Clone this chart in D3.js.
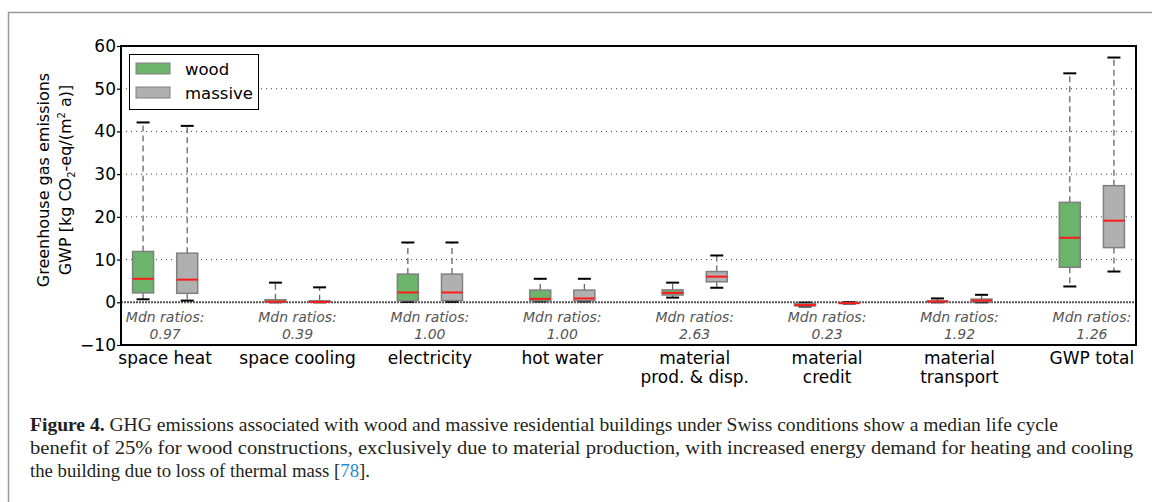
<!DOCTYPE html>
<html>
<head>
<meta charset="utf-8">
<script src="https://cdn.jsdelivr.net/npm/d3@7"></script>
<style>
body { margin: 0; background: #fff; }
svg { display: block; }
text { font-family: "DejaVu Sans", sans-serif; }
</style>
</head>
<body>
<svg id="chart"></svg>
<script>
// categories (x labels, may wrap to 2 lines)
let categories = [["space heat"], ["space cooling"], ["electricity"], ["hot water"],
    ["material", "prod. & disp."], ["material", "credit"], ["material", "transport"], ["GWP total"]]
// box stats: [lower whisker, q1, median, q3, upper whisker]
let woodStats = [
    [0.7, 2.2, 5.5, 11.9, 42.1],
    [0.0, 0.05, 0.15, 0.6, 4.6],
    [0.1, 0.35, 2.3, 6.6, 14.0],
    [0.2, 0.35, 0.8, 2.85, 5.5],
    [1.1, 1.7, 2.2, 2.9, 4.6],
    [-1.0, -0.85, -0.65, -0.3, -0.1],
    [0.0, 0.1, 0.2, 0.3, 0.9],
    [3.7, 8.2, 15.1, 23.4, 53.6]
]
let massiveStats = [
    [0.4, 2.1, 5.3, 11.5, 41.3],
    [0.0, 0.02, 0.06, 0.35, 3.5],
    [0.1, 0.4, 2.3, 6.6, 14.0],
    [0.2, 0.35, 0.9, 2.85, 5.5],
    [3.4, 4.8, 6.0, 7.2, 10.96],
    [-0.3, -0.25, -0.2, -0.1, 0.0],
    [0.0, 0.15, 0.42, 0.75, 1.75],
    [7.2, 12.8, 19.1, 27.3, 57.3]
]
let ratios = ["0.97", "0.39", "1.00", "1.00", "2.63", "0.23", "1.92", "1.26"]
let yTicks = [-10, 0, 10, 20, 30, 40, 50, 60]
let seriesNames = ["wood", "massive"]
let seriesColors = ["#6cb36c", "#b0b0b0"]

let width = 1152
let height = 502
let padL = 121, padR = 1136, padT = 46, padB = 345

let svg = d3.select('#chart').attr('width', width).attr('height', height)

// outer figure frame (left + top)
svg.append('line').attr('x1', 8.5).attr('x2', 8.5).attr('y1', 12).attr('y2', height)
    .attr('stroke', '#999').attr('stroke-width', 1.5)
svg.append('line').attr('x1', 8).attr('x2', width).attr('y1', 12.5).attr('y2', 12.5)
    .attr('stroke', '#999').attr('stroke-width', 1.5)

let xScale = d3.scaleLinear().domain([0.5, 23.5]).range([padL, padR])
let yScale = d3.scaleLinear().domain([-10, 60]).range([padB, padT])

// grid
svg.append('g').selectAll('line')
    .data(yTicks.filter(t => t > 0 && t < 60))
    .enter().append('line')
    .attr('x1', padL).attr('x2', padR)
    .attr('y1', d => yScale(d)).attr('y2', d => yScale(d))
    .attr('stroke', '#444').attr('stroke-width', 1).attr('stroke-dasharray', '1,4')

// zero line
svg.append('line').attr('x1', padL).attr('x2', padR)
    .attr('y1', yScale(0)).attr('y2', yScale(0))
    .attr('stroke', '#555').attr('stroke-width', 2).attr('stroke-dasharray', '2,1')

// y axis
let yAxis = d3.axisLeft(yScale).tickValues(yTicks).tickSize(4).tickPadding(1)
    .tickFormat(d => d < 0 ? '\u2212' + Math.abs(d) : d)
let ya = svg.append('g').attr('transform', 'translate(' + padL + ',0)').call(yAxis)
ya.select('.domain').remove()
ya.selectAll('line').attr('stroke', '#000').attr('stroke-width', 1.2)
ya.selectAll('text').attr('font-size', 17).attr('font-family', 'DejaVu Sans').attr('fill', '#000')

// boxes
let boxW = 21
let drawBoxes = (stats, offset, color) => {
    let g = svg.append('g')
    stats.forEach((s, i) => {
        let cx = xScale(i * 3 + offset)
        let [lo, q1, md, q3, hi] = s
        // whiskers
        g.append('line').attr('x1', cx).attr('x2', cx).attr('y1', yScale(q3)).attr('y2', yScale(hi))
            .attr('stroke', '#666').attr('stroke-width', 1.3).attr('stroke-dasharray', '6,4')
        g.append('line').attr('x1', cx).attr('x2', cx).attr('y1', yScale(q1)).attr('y2', yScale(lo))
            .attr('stroke', '#666').attr('stroke-width', 1.3).attr('stroke-dasharray', '6,4')
        // caps
        ;[lo, hi].forEach(v => {
            g.append('line').attr('x1', cx - 6.5).attr('x2', cx + 6.5)
                .attr('y1', yScale(v)).attr('y2', yScale(v))
                .attr('stroke', '#000').attr('stroke-width', 2)
        })
        g.append('rect').attr('x', cx - boxW / 2).attr('width', boxW)
            .attr('y', yScale(q3)).attr('height', Math.max(yScale(q1) - yScale(q3), 0.5))
            .attr('fill', color).attr('stroke', '#808080').attr('stroke-width', 1.5)
        g.append('line').attr('x1', cx - boxW / 2).attr('x2', cx + boxW / 2)
            .attr('y1', yScale(md)).attr('y2', yScale(md))
            .attr('stroke', '#ff1a1a').attr('stroke-width', 2)
    })
}
drawBoxes(woodStats, 1, seriesColors[0])
drawBoxes(massiveStats, 2, seriesColors[1])

// median ratio annotations
let rt = svg.append('g')
ratios.forEach((r, i) => {
    let cx = xScale(i * 3 + 1.5)
    let t = rt.append('text').attr('x', cx).attr('text-anchor', 'middle')
        .attr('font-size', 14).attr('font-style', 'italic').attr('fill', '#555')
    t.append('tspan').attr('x', cx).attr('y', 322).text('Mdn ratios:')
    t.append('tspan').attr('x', cx).attr('y', 339).text(r)
})

// frame
svg.append('rect').attr('x', padL).attr('y', padT).attr('width', padR - padL).attr('height', padB - padT)
    .attr('fill', 'none').attr('stroke', '#000').attr('stroke-width', 2)

// x labels
categories.forEach((c, i) => {
    let cx = xScale(i * 3 + 1.5)
    let t = svg.append('text').attr('text-anchor', 'middle').attr('font-size', 17).attr('fill', '#000')
    c.forEach((line, j) => {
        t.append('tspan').attr('x', cx).attr('y', 364 + j * 19).text(line)
    })
})

// y label
let yl = svg.append('text').attr('transform', 'translate(0,180) rotate(-90)')
    .attr('text-anchor', 'middle').attr('font-size', 16).attr('fill', '#000')
yl.append('tspan').attr('x', 0).attr('y', 49).text('Greenhouse gas emissions')
let l2 = yl.append('tspan').attr('x', 0).attr('y', 71)
l2.append('tspan').text('GWP [kg CO')
l2.append('tspan').attr('font-size', 10).attr('dy', 4).text('2')
l2.append('tspan').attr('dy', -4).text('-eq/(m')
l2.append('tspan').attr('font-size', 10).attr('dy', -6).text('2')
l2.append('tspan').attr('dy', 6).text(' a)]')

// legend
let lg = svg.append('g')
lg.append('rect').attr('x', 129.5).attr('y', 54.5).attr('width', 129).attr('height', 55)
    .attr('fill', '#fff').attr('stroke', '#000').attr('stroke-width', 1)
seriesNames.forEach((n, i) => {
    lg.append('rect').attr('x', 136).attr('y', 63 + i * 24).attr('width', 34).attr('height', 11)
        .attr('fill', seriesColors[i]).attr('stroke', '#808080').attr('stroke-width', 1)
    lg.append('text').attr('x', 185).attr('y', 75 + i * 24).attr('font-size', 16.5).attr('fill', '#000').text(n)
})

// caption
let serif = '"Liberation Serif", serif'
let c1 = svg.append('text').attr('x', 30).attr('y', 431).attr('font-size', 18.5).attr('fill', '#231f20')
    .attr('textLength', 1028).attr('lengthAdjust', 'spacingAndGlyphs').style('font-family', serif)
c1.append('tspan').attr('font-weight', 'bold').text('Figure 4.')
c1.append('tspan').text(' GHG emissions associated with wood and massive residential buildings under Swiss conditions show a median life cycle')
svg.append('text').attr('x', 30).attr('y', 454).attr('font-size', 18.5).attr('fill', '#231f20')
    .attr('textLength', 1103).attr('lengthAdjust', 'spacingAndGlyphs').style('font-family', serif)
    .text('benefit of 25% for wood constructions, exclusively due to material production, with increased energy demand for heating and cooling')
let c3 = svg.append('text').attr('x', 30).attr('y', 477).attr('font-size', 18.5).attr('fill', '#231f20')
    .attr('textLength', 340).attr('lengthAdjust', 'spacingAndGlyphs').style('font-family', serif)
c3.append('tspan').text('the building due to loss of thermal mass [')
c3.append('tspan').attr('fill', '#1f8bd0').text('78')
c3.append('tspan').text('].')
</script>
</body>
</html>
